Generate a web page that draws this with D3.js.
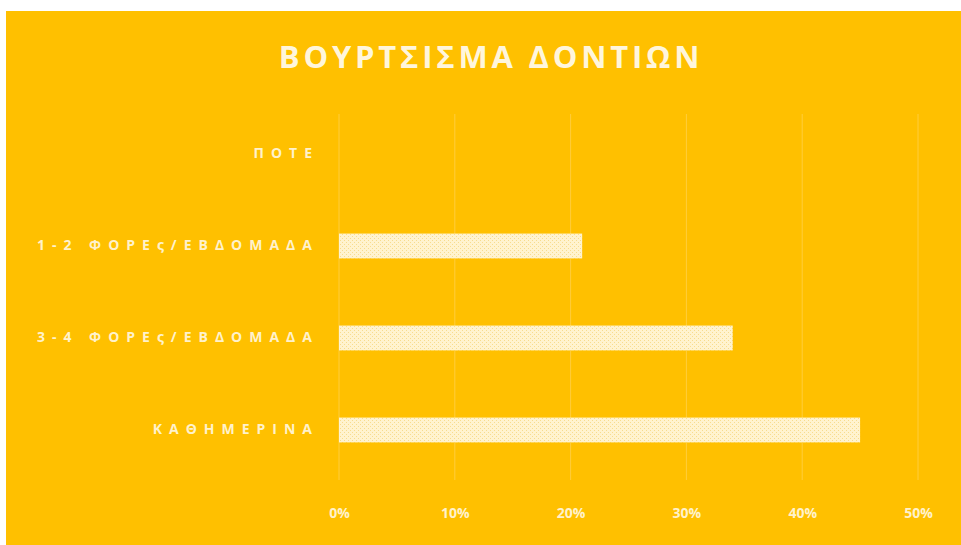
<!DOCTYPE html>
<html>
<head>
<meta charset="utf-8">
<script src="https://cdn.jsdelivr.net/npm/d3@7"></script>
<style>
  html, body { margin: 0; padding: 0; background: #ffffff; }
  svg { display: block; }
</style>
</head>
<body>
<svg id="chart" width="961" height="545"></svg>
<script>
// Tooth-brushing frequency, share of respondents
const categories = ["ΠΟΤΕ", "1-2 ΦΟΡΕς/ΕΒΔΟΜΑΔΑ", "3-4 ΦΟΡΕς/ΕΒΔΟΜΑΔΑ", "ΚΑΘΗΜΕΡΙΝΑ"];
const values = [0, 0.21, 0.34, 0.45];
const ticks = [0, 0.1, 0.2, 0.3, 0.4, 0.5];
const title = "ΒΟΥΡΤΣΙΣΜΑ ΔΟΝΤΙΩΝ";

const W = 961, H = 545;
const bg = "#FFC000", ink = "#FFF2CC";
const margin = { top: 108, right: 43, bottom: 69, left: 339 };

const svg = d3.select("#chart");

const defs = svg.append("defs");
const pat = defs.append("pattern")
  .attr("id", "dots").attr("width", 4).attr("height", 4)
  .attr("patternUnits", "userSpaceOnUse");
pat.append("rect").attr("width", 4).attr("height", 4).attr("fill", "#FFF3CF");
pat.append("rect").attr("x", 0).attr("y", 0).attr("width", 1).attr("height", 1).attr("fill", "#F7DC8E");
pat.append("rect").attr("x", 2).attr("y", 2).attr("width", 1).attr("height", 1).attr("fill", "#F7DC8E");

// chart area background
svg.append("rect")
  .attr("x", 6).attr("y", 11).attr("width", W - 6).attr("height", H - 11)
  .attr("fill", bg);

const x = d3.scaleLinear().domain([0, 0.5]).range([margin.left, W - margin.right]);
const y = d3.scaleBand().domain(categories)
  .range([margin.top, H - margin.bottom]).paddingInner(0.73).paddingOuter(0.365);

// vertical gridlines
svg.append("g")
  .selectAll("line").data(ticks).join("line")
  .attr("x1", d => x(d)).attr("x2", d => x(d))
  .attr("y1", margin.top + 6).attr("y2", H - margin.bottom + 4)
  .attr("stroke", "#FFCD3C").attr("stroke-width", 1);

// bars
svg.append("g")
  .selectAll("rect").data(categories).join("rect")
  .attr("x", x(0))
  .attr("y", d => y(d))
  .attr("width", (d, i) => x(values[i]) - x(0))
  .attr("height", y.bandwidth())
  .attr("fill", "url(#dots)");

// category axis
const yAxis = svg.append("g")
  .attr("transform", `translate(${margin.left - 20},0)`)
  .call(d3.axisLeft(y).tickSize(0).tickPadding(0));
yAxis.select(".domain").remove();
yAxis.selectAll("text")
  .attr("fill", ink)
  .style("font-family", "'Open Sans', sans-serif")
  .style("font-weight", "700")
  .style("font-size", "14px")
  .style("letter-spacing", "7px");

// value axis
const xAxis = svg.append("g")
  .attr("transform", `translate(0,${H - margin.bottom + 32})`)
  .call(d3.axisBottom(x).tickValues(ticks).tickFormat(d3.format(".0%")).tickSize(0).tickPadding(0));
xAxis.select(".domain").remove();
xAxis.selectAll("text")
  .attr("fill", ink)
  .style("font-family", "'Open Sans', sans-serif")
  .style("font-weight", "700")
  .style("font-size", "14px");

// title
svg.append("text")
  .attr("x", 491).attr("y", 68)
  .attr("text-anchor", "middle")
  .attr("fill", "#FFF6DC")
  .style("font-family", "'Open Sans', sans-serif")
  .style("font-weight", "700")
  .style("font-size", "31px")
  .style("letter-spacing", "3.8px")
  .text(title);
</script>
</body>
</html>
